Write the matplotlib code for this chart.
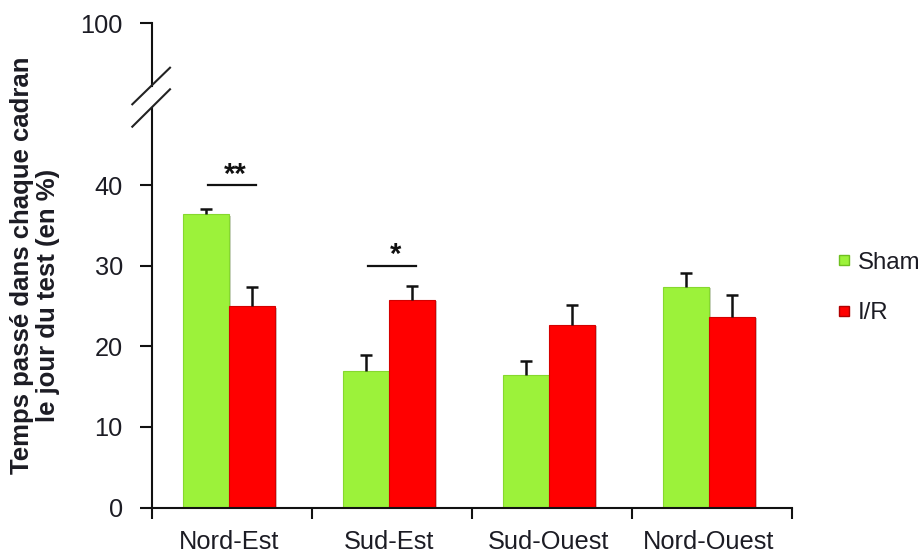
import numpy as np
import matplotlib.pyplot as plt
from matplotlib.lines import Line2D
import matplotlib.patheffects as pe

plt.rcParams['font.family'] = ['Liberation Sans', 'DejaVu Sans']

# data
categories = ['Nord-Est', 'Sud-Est', 'Sud-Ouest', 'Nord-Ouest']
sham = [36.4, 17.0, 16.4, 27.4]
sham_err = [0.7, 1.9, 1.8, 1.7]
ir = [25.0, 25.8, 22.7, 23.7]
ir_err = [2.4, 1.7, 2.5, 2.7]
sig_cat = [0, 1]
sig_y = [40, 30]
sig_txt = ['**', '*']

txt = '#1c1c24'
green = '#9cf23a'
red = '#ff0000'
fs = 18.3

fig = plt.figure(figsize=(9.22, 5.52), dpi=100)
W, H = 922, 552
def box(x0, y0, x1, y1):
    # pixel box (top-left origin) -> figure fraction rect
    return [x0 / W, 1 - y1 / H, (x1 - x0) / W, (y1 - y0) / H]

ax = fig.add_axes(box(152, 108, 792, 507.5))
axt = fig.add_axes(box(152, 23.3, 792, 85.5))

x = np.arange(len(categories)) - 0.02
bw = 0.2875
shadow = [pe.SimplePatchShadow(offset=(1.8, -1.0), alpha=0.25), pe.Normal()]
b1 = ax.bar(x - bw / 2, sham, bw, color=green, edgecolor='#86d82e', lw=0.8, zorder=2)
b2 = ax.bar(x + bw / 2, ir, bw, color=red, edgecolor='#d40000', lw=0.8, zorder=2)
for b in list(b1) + list(b2):
    b.set_path_effects(shadow)

# error bars: upper half only
for xs, ys, es in [(x - bw / 2, sham, sham_err), (x + bw / 2, ir, ir_err)]:
    tops = np.array(ys) + np.array(es)
    ax.vlines(xs, ys, tops, color='#111111', lw=1.8, zorder=3)
    ax.hlines(tops, xs - 0.037, xs + 0.037, color='#111111', lw=1.8, zorder=3)

for c, yv, s in zip(sig_cat, sig_y, sig_txt):
    ax.plot([c - 0.15, c + 0.15], [yv, yv], color='#111111', lw=1.6)
    ax.text(c + 0.02, yv - 0.4, s, ha='center', va='bottom', fontsize=21,
            fontweight='bold', color='#111111')

ax.set_xlim(-0.5, 3.5)
ax.set_ylim(0, 49.6)
ax.set_yticks([0, 10, 20, 30, 40])
ax.set_xticks(x)
ax.set_xticklabels(categories)
ax.set_xticks(np.arange(-0.5, 4.0, 1.0), minor=True)
ax.tick_params(axis='x', which='major', length=0, pad=16, labelsize=fs, labelcolor=txt)
ax.tick_params(axis='x', which='minor', length=8, width=1.5, direction='out', color='#111111')
ax.tick_params(axis='y', length=9, width=1.5, pad=12, labelsize=fs, labelcolor=txt, color='#111111')
for s in ['top', 'right']:
    ax.spines[s].set_visible(False)
for s in ['left', 'bottom']:
    ax.spines[s].set_linewidth(1.5)
    ax.spines[s].set_color('#111111')

axt.set_ylim(92.3, 100)
axt.set_yticks([100])
axt.set_xticks([])
axt.tick_params(axis='y', length=9, width=1.5, pad=12, labelsize=fs, labelcolor=txt, color='#111111')
for s in ['top', 'right', 'bottom']:
    axt.spines[s].set_visible(False)
axt.spines['left'].set_linewidth(1.5)
axt.spines['left'].set_color('#111111')
axt.patch.set_visible(False)

# axis break marks
for y0, y1 in [(104.3, 67.7), (126.7, 89.3)]:
    fig.add_artist(Line2D([132.3 / W, 170 / W], [1 - y0 / H, 1 - y1 / H],
                          color='#222222', lw=1.5))

fig.text(22 / W, 1 - 265 / H, 'Temps passé dans chaque cadran', rotation=90,
         ha='center', va='center', fontsize=18.5, fontweight='bold', color=txt)
fig.text(48 / W, 1 - 295 / H, 'le jour du test (en %)', rotation=90,
         ha='center', va='center', fontsize=18.5, fontweight='bold', color=txt)

handles = [Line2D([], [], ls='none', marker='s', markersize=6.5, markerfacecolor=green,
                  markeredgecolor='#6fbf20'),
           Line2D([], [], ls='none', marker='s', markersize=6.5, markerfacecolor=red,
                  markeredgecolor='#b00000')]
fig.legend(handles, ['Sham', 'I/R'], loc='center left', bbox_to_anchor=(815 / W, 1 - 288 / H),
           frameon=False, fontsize=17.3, labelspacing=1.2, handlelength=0.6,
           handletextpad=0.3, labelcolor=txt)

fig.savefig('out.png', dpi=100)
